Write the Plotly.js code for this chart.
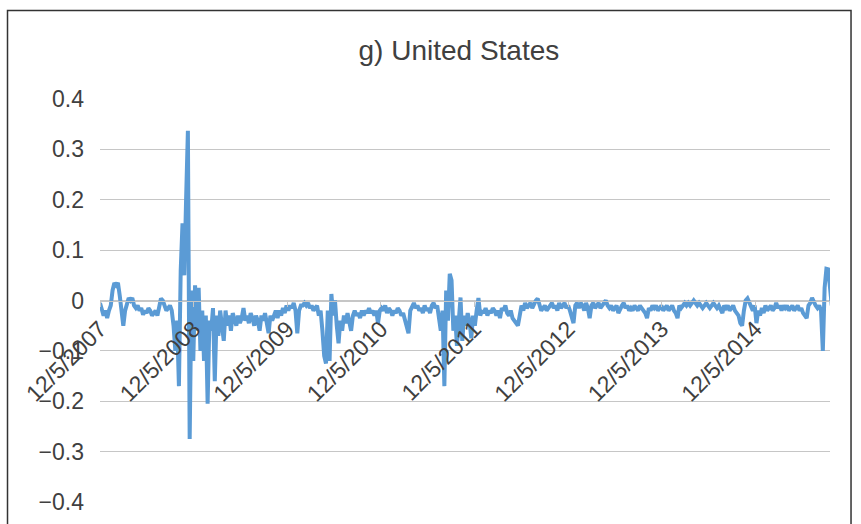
<!DOCTYPE html>
<html>
<head>
<meta charset="utf-8">
<script src="https://cdn.plot.ly/plotly-3.0.1.min.js"></script>
<style>html,body{margin:0;padding:0;background:#ffffff;}#chart{width:861px;height:524px;}</style>
</head>
<body>
<div id="chart"></div>
<script>
// Weekly observations starting 12/5/2007
const startDate = '2007-12-05';
const endDate = '2015-09-23';
const tickDates = ['2007-12-05','2008-12-05','2009-12-05','2010-12-05','2011-12-05','2012-12-05','2013-12-05','2014-12-05'];
const tickLabels = ['12/5/2007','12/5/2008','12/5/2009','12/5/2010','12/5/2011','12/5/2012','12/5/2013','12/5/2014'];
const yTicks = [-0.4,-0.3,-0.2,-0.1,0,0.1,0.2,0.3,0.4];
const yTickLabels = ['\u22120.4','\u22120.3','\u22120.2','\u22120.1','0','0.1','0.2','0.3','0.4'];

const values = [
 -0.005,-0.015,-0.03,-0.02,-0.035,-0.02,-0.01,0.02,0.035,0.03,
 0.035,0.01,-0.03,-0.05,-0.02,-0.01,0.005,0.0,0.005,-0.01,
 -0.015,-0.01,-0.02,-0.015,-0.028,-0.02,-0.025,-0.015,-0.02,-0.03,
 -0.025,-0.02,-0.03,-0.01,0.004,0.0,-0.01,-0.02,-0.015,-0.01,
 -0.02,-0.05,-0.1,-0.04,-0.17,0.06,0.153,0.05,0.2,0.337,
 -0.275,0.02,-0.12,0.03,-0.06,0.025,-0.1,-0.02,-0.12,-0.03,
 -0.205,-0.04,-0.06,-0.015,-0.16,-0.03,-0.07,-0.02,-0.05,-0.08,
 -0.02,-0.05,-0.03,-0.06,-0.025,-0.04,-0.05,-0.03,-0.045,-0.035,
 -0.015,-0.04,-0.03,-0.045,-0.025,-0.035,-0.05,-0.03,-0.04,-0.06,
 -0.03,-0.04,-0.025,-0.045,-0.065,-0.03,-0.04,-0.03,-0.02,-0.035,
 -0.02,-0.03,-0.015,-0.025,-0.01,-0.02,-0.01,-0.015,-0.005,-0.02,
 -0.065,-0.02,-0.01,-0.01,-0.005,-0.01,-0.005,-0.015,-0.01,-0.02,
 -0.015,-0.01,-0.03,-0.02,-0.06,-0.11,-0.125,-0.02,-0.12,0.013,
 -0.03,0.0,-0.05,-0.085,-0.04,-0.06,-0.03,-0.045,-0.025,-0.04,
 -0.06,-0.03,-0.02,-0.03,-0.025,-0.035,-0.02,-0.03,-0.02,-0.025,
 -0.015,-0.025,-0.02,-0.03,-0.02,-0.045,-0.02,-0.015,-0.02,-0.01,
 -0.025,-0.015,-0.02,-0.03,-0.02,-0.025,-0.015,-0.02,-0.03,-0.025,
 -0.04,-0.05,-0.065,-0.02,-0.01,-0.005,-0.015,-0.01,-0.02,-0.015,
 -0.025,-0.01,-0.02,-0.015,-0.025,-0.01,-0.005,-0.015,-0.01,-0.03,
 -0.06,-0.02,-0.17,0.02,-0.04,0.053,0.04,-0.06,-0.03,-0.09,
 -0.04,0.006,-0.08,-0.03,-0.05,-0.025,-0.04,-0.075,-0.03,-0.05,
 -0.02,0.005,-0.03,-0.02,-0.025,-0.015,-0.03,-0.02,-0.025,-0.015,
 -0.02,-0.03,-0.02,-0.035,-0.015,-0.02,-0.01,-0.025,-0.03,-0.02,
 -0.035,-0.04,-0.045,-0.05,-0.03,-0.01,-0.02,-0.005,-0.015,-0.01,
 -0.005,-0.015,-0.005,0.0,0.004,-0.01,-0.02,-0.015,-0.01,-0.02,
 -0.015,-0.01,-0.005,-0.015,-0.01,-0.02,-0.005,-0.015,-0.01,-0.005,
 -0.015,-0.01,-0.02,-0.03,-0.045,-0.01,-0.005,-0.015,-0.005,-0.01,
 -0.02,-0.005,-0.015,-0.035,-0.01,-0.005,-0.015,-0.01,-0.005,-0.015,
 -0.01,-0.005,0.0,-0.01,-0.015,-0.01,-0.02,-0.015,-0.01,-0.025,
 -0.015,-0.01,-0.005,-0.015,-0.01,-0.02,-0.015,-0.02,-0.01,-0.015,
 -0.02,-0.01,-0.015,-0.02,-0.025,-0.035,-0.015,-0.02,-0.01,-0.015,
 -0.01,-0.02,-0.015,-0.01,-0.02,-0.015,-0.01,-0.02,-0.015,-0.01,
 -0.02,-0.025,-0.035,-0.01,-0.015,-0.01,-0.005,-0.01,-0.005,-0.01,
 -0.005,0.0,-0.005,-0.01,-0.005,-0.01,-0.015,-0.01,-0.005,-0.01,
 -0.015,-0.01,-0.005,-0.01,-0.015,-0.01,-0.02,-0.025,-0.01,-0.015,
 -0.01,-0.02,-0.015,-0.01,-0.02,-0.025,-0.03,-0.045,-0.05,-0.02,
 0.0,0.004,-0.005,-0.015,-0.02,-0.01,-0.045,-0.02,-0.03,-0.015,
 -0.025,-0.01,-0.02,-0.015,-0.01,-0.02,-0.015,-0.005,-0.015,-0.01,
 -0.02,-0.01,-0.015,-0.01,-0.02,-0.015,-0.01,-0.02,-0.015,-0.01,
 -0.02,-0.015,-0.025,-0.03,-0.035,-0.01,-0.005,0.005,-0.005,-0.01,
 -0.015,-0.01,-0.02,-0.1,0.025,0.063,0.062,0.02,-0.01
];

// weekly dates for each observation
const dates = [];
const t0 = Date.UTC(2007, 11, 5);
for (let i = 0; i < values.length; i++) {
  const d = new Date(t0 + i * 7 * 86400000);
  dates.push(d.toISOString().slice(0, 10));
}

const textColor = '#404040';
const gridColor = '#c6c6c6';
const fontFam = '"Liberation Sans", Arial, sans-serif';

const trace = {
  x: dates, y: values, type: 'scatter', mode: 'lines',
  line: {color: '#5b9bd5', width: 4, shape: 'linear'},
  hoverinfo: 'skip'
};

const layout = {
  width: 861, height: 524,
  margin: {l: 100, r: 31, t: 99, b: 22},
  paper_bgcolor: '#ffffff', plot_bgcolor: '#ffffff',
  showlegend: false,
  font: {family: fontFam, color: textColor},
  title: {text: 'g) United States', font: {size: 28, color: textColor, family: fontFam},
          xref: 'container', x: 0.533, xanchor: 'center', yref: 'container', y: 0.905, yanchor: 'middle'},
  xaxis: {
    type: 'date', range: [startDate, endDate],
    anchor: 'free', position: 0.5,
    tickmode: 'array', tickvals: tickDates, ticktext: tickLabels,
    tickangle: -45, tickfont: {size: 23, color: textColor},
    showgrid: false, zeroline: false,
    showline: true, linecolor: gridColor, linewidth: 1,
    ticks: 'outside', ticklen: 5, tickcolor: gridColor, tickwidth: 1
  },
  yaxis: {
    range: [-0.4, 0.4], tickmode: 'array', tickvals: yTicks, ticktext: yTickLabels,
    tickfont: {size: 23, color: textColor},
    showgrid: true, gridcolor: gridColor, gridwidth: 1,
    zeroline: false, showline: false, ticks: '', ticklabelstandoff: 15
  },
  shapes: [{
    type: 'rect', xref: 'paper', yref: 'paper', layer: 'above',
    x0: -0.1267, x1: 1.0288, y0: -0.2, y1: 1.2196,
    line: {color: '#333333', width: 1.5}, fillcolor: 'rgba(0,0,0,0)'
  }]
};

Plotly.newPlot('chart', [trace], layout, {displayModeBar: false, staticPlot: true});
</script>
</body>
</html>
